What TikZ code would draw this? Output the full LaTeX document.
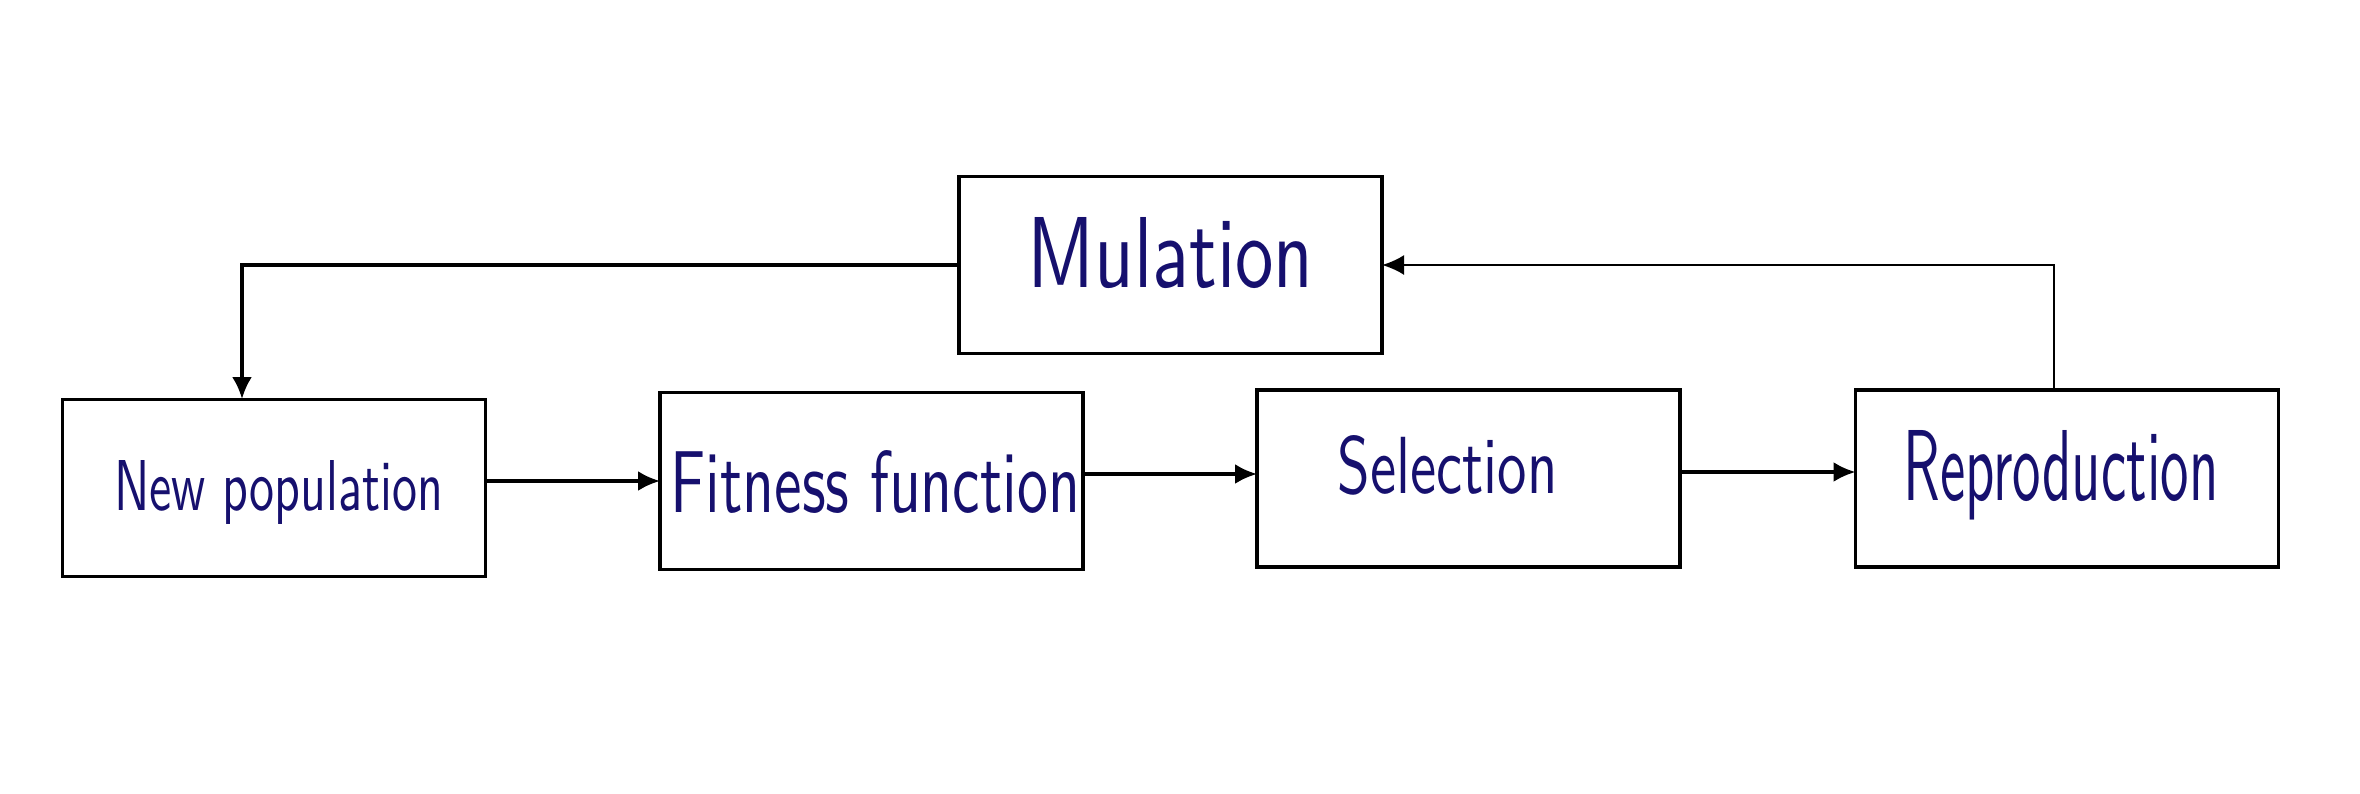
\documentclass[tikz,border=0pt]{standalone}
\usepackage{graphicx}
\usetikzlibrary{arrows.meta}
\definecolor{ink}{RGB}{22,16,110}
\begin{document}
\begin{tikzpicture}[x=0.5pt,y=-0.5pt,
  box/.style={draw=black,line width=1.8pt,minimum width=211.5pt,minimum height=88.5pt,inner sep=0pt,outer sep=0pt},
  lbl/.style={anchor=base west,inner sep=0pt,text=ink,font=\sffamily},
  conn/.style={draw=black,line width=1.7pt,-{Latex[length=11pt,width=10pt]}}]
\useasboundingbox (0,0) rectangle (2360,793);
\node[box] (np)  at (274,488) {};
\node[box] (fit) at (871.5,481) {};
\node[box] (sel) at (1468.5,478.5) {};
\node[box] (rep) at (2067,478.5) {};
\node[box] (mul) at (1170.5,265) {};
\node[lbl] (tnp)  at (114,510) {\resizebox{164.5pt}{25pt}{New population}};
\node[lbl] (tfit) at (670,512) {\resizebox{205pt}{31pt}{Fitness function}};
\node[lbl] (tsel) at (1337,493) {\resizebox{110pt}{29pt}{Selection}};
\node[lbl] (trep) at (1903,500) {\resizebox{157.5pt}{35pt}{Reproduction}};
\node[lbl] (tmul) at (1027,287) {\resizebox{143pt}{35pt}{Mulation}};
\coordinate (npin) at (242,399);
\draw[conn] (mul.west) -| (npin);
\draw[conn] (np.east |- fit.west) -- (fit.west);
\draw[conn] (fit.east |- 0,474) -- (sel.west |- 0,474);
\draw[conn] (sel.east |- 0,472) -- (rep.west |- 0,472);
\coordinate (repout) at (2054,390);
\draw[conn,line width=1.2pt] (repout) |- (mul.east);
\end{tikzpicture}
\end{document}
